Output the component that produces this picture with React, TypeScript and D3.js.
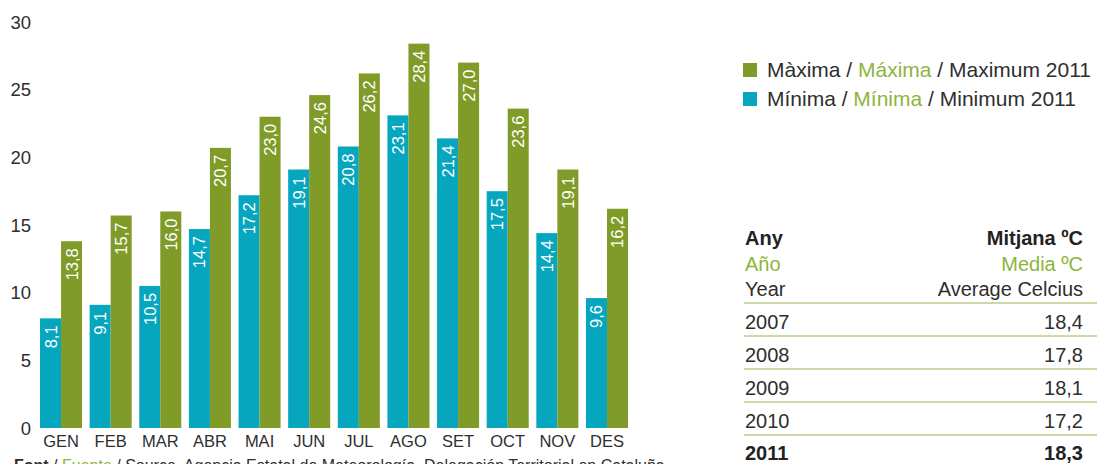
import React from "react";
import * as d3 from "d3";

const months = ["GEN", "FEB", "MAR", "ABR", "MAI", "JUN", "JUL", "AGO", "SET", "OCT", "NOV", "DES"];
const minima = [8.1, 9.1, 10.5, 14.7, 17.2, 19.1, 20.8, 23.1, 21.4, 17.5, 14.4, 9.6];
const maxima = [13.8, 15.7, 16.0, 20.7, 23.0, 24.6, 26.2, 28.4, 27.0, 23.6, 19.1, 16.2];
const yTicks = [0, 5, 10, 15, 20, 25, 30];
const tableYears = ["2007", "2008", "2009", "2010", "2011"];
const tableAvg = ["18,4", "17,8", "18,1", "17,2", "18,3"];

const CYAN = "#06a6bf";
const GREEN = "#819b29";
const LGREEN = "#8db53c";
const TXT = "#2e2e2e";
const FONT = "'Liberation Sans', Arial, sans-serif";

const fmt = (v: number) => v.toFixed(1).replace(".", ",");

export default function App() {
  const W = 1097, H = 464;
  const x = d3.scaleBand<string>().domain(months).range([40, 628]).paddingInner(0.153).paddingOuter(0);
  const y = d3.scaleLinear().domain([0, 30]).range([428, 22]);
  const bw = x.bandwidth() / 2;

  const bar = (m: string, v: number, color: string, off: number, key: string) => {
    const x0 = (x(m) as number) + off;
    const cx = x0 + bw / 2;
    const top = y(v);
    return (
      <g key={key}>
        <rect x={x0} y={top} width={bw} height={y(0) - top} fill={color} />
        <text
          transform={`translate(${cx},${top + 7}) rotate(-90)`}
          textAnchor="end"
          dominantBaseline="central"
          fill="#fff"
          fontSize={16.5}
        >
          {fmt(v)}
        </text>
      </g>
    );
  };

  const rowY = [322, 355, 388, 421, 453];
  const lineY = [303, 336, 369, 402, 435];
  const TF = 20;

  return (
    <svg width={W} height={H} style={{ position: "absolute", left: 0, top: 0 }} fontFamily={FONT}>
      <rect width={W} height={H} fill="#fff" />
      {yTicks.map((t) => (
        <text key={t} x={31} y={y(t)} textAnchor="end" dominantBaseline="central" fontSize={18.5} fill={TXT}>
          {t}
        </text>
      ))}
      {months.map((m, i) => bar(m, minima[i], CYAN, 0, "n" + i))}
      {months.map((m, i) => bar(m, maxima[i], GREEN, bw, "x" + i))}
      {months.map((m) => (
        <text key={m} x={(x(m) as number) + x.bandwidth() / 2} y={447} textAnchor="middle" fontSize={16.5} fill={TXT}>
          {m}
        </text>
      ))}
      <text x={14} y={471} fontSize={16} fill={TXT}>
        <tspan fontWeight="bold">Font</tspan>
        <tspan> / </tspan>
        <tspan fill={LGREEN}>Fuente</tspan>
        <tspan> / Source. Agencia Estatal de Meteorología. Delegación Territorial en Cataluña</tspan>
      </text>

      {/* legend */}
      <rect x={743} y={63} width={14} height={14} fill={GREEN} />
      <text x={767} y={77} fontSize={21} fill={TXT}>
        Màxima / <tspan fill={LGREEN}>Máxima</tspan> / Maximum 2011
      </text>
      <rect x={743} y={92} width={14} height={14} fill={CYAN} />
      <text x={767} y={106} fontSize={21} fill={TXT}>
        Mínima / <tspan fill={LGREEN}>Mínima</tspan> / Minimum 2011
      </text>

      {/* table */}
      <text x={745} y={245} fontSize={TF} fontWeight="bold" fill="#222">Any</text>
      <text x={1083} y={245} fontSize={TF} fontWeight="bold" fill="#222" textAnchor="end">Mitjana ºC</text>
      <text x={745} y={271} fontSize={TF} fill={LGREEN}>Año</text>
      <text x={1083} y={271} fontSize={TF} fill={LGREEN} textAnchor="end">Media ºC</text>
      <text x={745} y={296} fontSize={TF} fill={TXT}>Year</text>
      <text x={1083} y={296} fontSize={TF} fill={TXT} textAnchor="end">Average Celcius</text>
      {lineY.map((ly, i) => (
        <line key={"l" + i} x1={744} x2={1097} y1={ly} y2={ly} stroke="#bccd8f" strokeWidth={1.5} />
      ))}
      {tableYears.map((yr, i) => (
        <g key={yr}>
          <text x={745} y={rowY[i] + 7} fontSize={TF} fill={i === 4 ? "#222" : TXT} fontWeight={i === 4 ? "bold" : "normal"}>
            {yr}
          </text>
          <text x={1083} y={rowY[i] + 7} fontSize={TF} textAnchor="end" fill={i === 4 ? "#222" : TXT} fontWeight={i === 4 ? "bold" : "normal"}>
            {tableAvg[i]}
          </text>
        </g>
      ))}
    </svg>
  );
}
